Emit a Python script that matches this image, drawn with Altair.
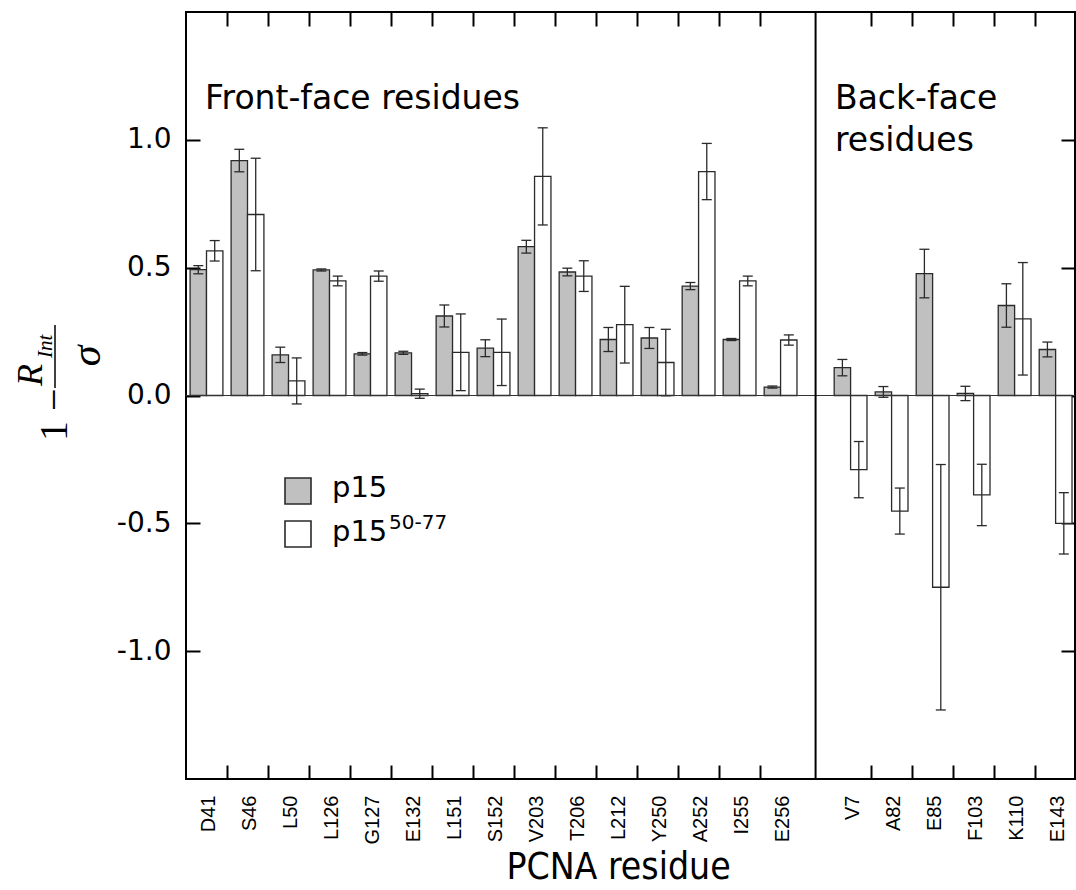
import json
import altair as alt
import pandas as pd

# ---------------- data ----------------
front = ["D41", "S46", "L50", "L126", "G127", "E132", "L151", "S152",
         "V203", "T206", "L212", "Y250", "A252", "I255", "E256"]
back = ["V7", "A82", "E85", "F103", "K110", "E143"]

p15_vals = [0.492, 0.919, 0.159, 0.491, 0.163, 0.167, 0.311, 0.185,
            0.582, 0.483, 0.219, 0.225, 0.428, 0.219, 0.033,
            0.109, 0.014, 0.477, 0.008, 0.352, 0.180]
p15_errs = [0.016, 0.044, 0.030, 0.004, 0.005, 0.006, 0.043, 0.033,
            0.025, 0.015, 0.047, 0.041, 0.014, 0.004, 0.004,
            0.032, 0.021, 0.095, 0.028, 0.085, 0.029]
pep_vals = [0.566, 0.708, 0.057, 0.448, 0.467, 0.007, 0.169, 0.169,
            0.857, 0.467, 0.277, 0.129, 0.876, 0.448, 0.217,
            -0.290, -0.452, -0.750, -0.389, 0.300, -0.500]
pep_errs = [0.040, 0.220, 0.090, 0.019, 0.020, 0.018, 0.150, 0.130,
            0.190, 0.060, 0.150, 0.130, 0.110, 0.019, 0.020,
            0.110, 0.090, 0.480, 0.120, 0.220, 0.120]

series_names = ["p15", "p15(50-77)"]
y_ticks = [-1.0, -0.5, 0.0, 0.5, 1.0]

# ---------------- layout of the category axis ----------------
GAP = 29 / 41                      # gap between the two residue groups (in band units)
names = front + back
starts = [float(i) for i in range(len(front))] + \
         [len(front) + GAP + j for j in range(len(back))]
DIVIDER = len(front) + GAP / 2
XMAX = 21.68

rows = []
for i, n in enumerate(names):
    s = starts[i]
    rows.append(dict(name=n, series=series_names[0], value=p15_vals[i],
                     err=p15_errs[i], x0=s + 0.1, x1=s + 0.5))
    rows.append(dict(name=n, series=series_names[1], value=pep_vals[i],
                     err=pep_errs[i], x0=s + 0.5, x1=s + 0.9))
df = pd.DataFrame(rows)
df["xc"] = (df["x0"] + df["x1"]) / 2
df["lo"] = df["value"] - df["err"]
df["hi"] = df["value"] + df["err"]

centers = [s + 0.5 for s in starts]
bounds = [float(k) for k in range(1, len(front))] + \
         [len(front) + GAP + j for j in range(1, len(back))]

xs = alt.Scale(domain=[0, XMAX], nice=False, zero=False)
ys = alt.Scale(domain=[-1.5, 1.5], nice=False, zero=False)

SANS = "DejaVu Sans"
LAB = "Liberation Sans, Arial, sans-serif"
SERIF = "Liberation Serif"
NARROW = "Liberation Sans Narrow, DejaVu Sans Condensed, Liberation Sans"
INK = "#2a2a2a"

label_axis = alt.Axis(
    orient="bottom", values=centers,
    labelExpr=f"{json.dumps(names)}[floor(datum.value) < {len(front)} ? floor(datum.value) : floor(datum.value) - 1]",
    ticks=False, domain=False, grid=False, labelAngle=270, labelOverlap=False,
    labelFont=LAB, labelFontSize=20, labelColor="black", labelPadding=16,
    labelOffset=2,
    title="PCNA residue", titleFont=NARROW, titleFontSize=37,
    titleFontWeight="normal", titleColor="black", titlePadding=6,
    titleX=432, titleAlign="center")

bottom_ticks = alt.Axis(orient="bottom", values=bounds, offset=-14, tickSize=14,
                        tickWidth=2, tickColor="black", labels=False,
                        domain=False, grid=False, title=None)
top_ticks = alt.Axis(orient="top", values=bounds, offset=-14, tickSize=14,
                     tickWidth=2, tickColor="black", labels=False,
                     domain=False, grid=False, title=None)

left_axis = alt.Axis(
    orient="left", values=y_ticks, offset=-14, tickSize=14, tickWidth=2,
    tickColor="black", domain=False, grid=False, title=None,
    labelExpr="replace(format(datum.value, '.1f'), '\u2212', '-')",
    labelFont=SANS, labelFontSize=28, labelColor="black", labelPadding=15)
right_axis = alt.Axis(orient="right", values=y_ticks, offset=-14, tickSize=14,
                      tickWidth=2, tickColor="black", labels=False,
                      domain=False, grid=False, title=None)

fill_scale = alt.Scale(domain=series_names, range=["#c0c0c0", "#ffffff"])

bars = alt.Chart(df).mark_bar(stroke=INK, strokeWidth=1.3).encode(
    x=alt.X("x0:Q", scale=xs, axis=label_axis),
    x2="x1:Q",
    y=alt.Y("value:Q", scale=ys, axis=left_axis),
    y2=alt.datum(0),
    fill=alt.Fill("series:N", scale=fill_scale, legend=None),
)

err_rules = alt.Chart(df).mark_rule(color=INK, strokeWidth=1.3).encode(
    x=alt.X("xc:Q", scale=xs, axis=bottom_ticks),
    y=alt.Y("lo:Q", scale=ys, axis=right_axis),
    y2="hi:Q",
)
cap_lo = alt.Chart(df).mark_tick(orient="horizontal", size=10, thickness=1.3,
                                 color=INK, opacity=1).encode(
    x=alt.X("xc:Q", scale=xs, axis=top_ticks),
    y=alt.Y("lo:Q", scale=ys, axis=None),
)
cap_hi = alt.Chart(df).mark_tick(orient="horizontal", size=10, thickness=1.3,
                                 color=INK, opacity=1).encode(
    x=alt.X("xc:Q", scale=xs, axis=None),
    y=alt.Y("hi:Q", scale=ys, axis=None),
)

zero_line = alt.Chart(pd.DataFrame({"y": [0.0]})).mark_rule(
    color="#333333", strokeWidth=1.2).encode(
    y=alt.Y("y:Q", scale=ys, axis=None))

divider = alt.Chart(pd.DataFrame({"x": [DIVIDER]})).mark_rule(
    color="black", strokeWidth=2).encode(
    x=alt.X("x:Q", scale=xs, axis=None))

one = pd.DataFrame({"k": [0]})


def txt(text, x, y, size, font=SANS, align="left", baseline="alphabetic",
        angle=0, style="normal"):
    return alt.Chart(one).mark_text(
        align=align, baseline=baseline, font=font, fontSize=size,
        fontStyle=style, angle=angle, color="black").encode(
        x=alt.value(x), y=alt.value(y), text=alt.value(text))


def box(x, y, w, h, fill):
    return alt.Chart(one).mark_rect(fill=fill, stroke=INK, strokeWidth=1.6).encode(
        x=alt.value(x), x2=alt.value(x + w), y=alt.value(y), y2=alt.value(y + h))


annotations = [
    txt("Front-face residues", 19, 97, 33),
    txt("Back-face", 649, 97, 33),
    txt("residues", 649, 139, 33),
    # legend
    box(99, 466, 26, 26, "#c0c0c0"),
    box(99, 509, 26, 26, "#ffffff"),
    txt("p15", 146, 485, 29),
    txt("p15", 146, 529, 29),
    txt("50-77", 203, 517, 20),
    # y-axis title: 1 - R_Int / sigma  (rotated)
    txt("1 \u2212", -119, 429, 40, font=SERIF, angle=270),
    txt("R", -144, 374, 36, font=SERIF, angle=270, style="italic"),
    txt("Int", -134, 346, 21, font=SERIF, angle=270, style="italic"),
    alt.Chart(one).mark_rule(color="black", strokeWidth=1.5).encode(
        x=alt.value(-131), y=alt.value(313), y2=alt.value(376)),
    txt("\u03c3", -86, 344, 42, font=SERIF, angle=270, style="italic",
        align="center"),
]

chart = alt.layer(
    bars, err_rules, cap_lo, cap_hi, zero_line, divider, *annotations
).resolve_axis(
    x="independent", y="independent"
).properties(
    width=889, height=767,
    autosize=alt.AutoSizeParams(type="none"),
    padding={"left": 186, "top": 12, "right": 1, "bottom": 111},
    background="white",
).configure_view(
    stroke="black", strokeWidth=2
)

chart.save("out.html", embed_options={"renderer": "svg", "actions": False})
